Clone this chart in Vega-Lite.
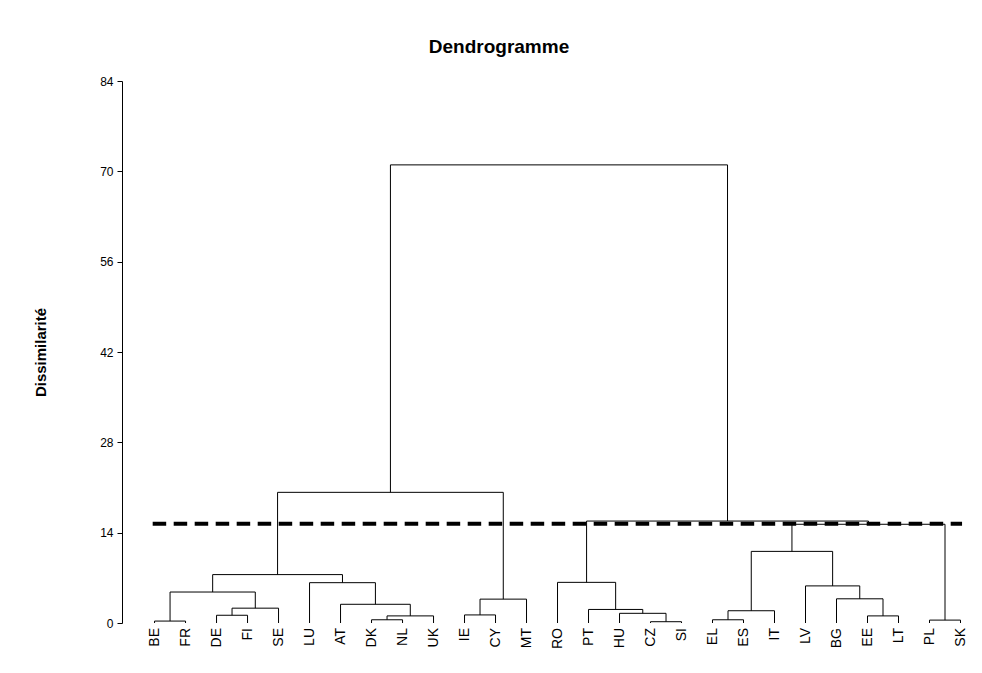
{
  "$schema": "https://vega.github.io/schema/vega-lite/v6.json",
  "width": 854,
  "height": 542,
  "autosize": {"type": "none"},
  "padding": {"left": 122, "top": 81, "right": 6, "bottom": 50},
  "background": "white",
  "config": {"view": {"stroke": null}, "font": "Liberation Sans"},
  "title": {
    "text": "Dendrogramme",
    "font": "Liberation Sans",
    "fontSize": 19,
    "fontWeight": "bold",
    "color": "black",
    "anchor": "middle",
    "dx": -50,
    "offset": 18
  },
  "datasets": {
    "leaves": [
      {"name": "BE", "pos": 1}, {"name": "FR", "pos": 2}, {"name": "DE", "pos": 3},
      {"name": "FI", "pos": 4}, {"name": "SE", "pos": 5}, {"name": "LU", "pos": 6},
      {"name": "AT", "pos": 7}, {"name": "DK", "pos": 8}, {"name": "NL", "pos": 9},
      {"name": "UK", "pos": 10}, {"name": "IE", "pos": 11}, {"name": "CY", "pos": 12},
      {"name": "MT", "pos": 13}, {"name": "RO", "pos": 14}, {"name": "PT", "pos": 15},
      {"name": "HU", "pos": 16}, {"name": "CZ", "pos": 17}, {"name": "SI", "pos": 18},
      {"name": "EL", "pos": 19}, {"name": "ES", "pos": 20}, {"name": "IT", "pos": 21},
      {"name": "LV", "pos": 22}, {"name": "BG", "pos": 23}, {"name": "EE", "pos": 24},
      {"name": "LT", "pos": 25}, {"name": "PL", "pos": 26}, {"name": "SK", "pos": 27}
    ],
    "merges": [
      {"lx": 1, "lh": 0, "rx": 2, "rh": 0, "h": 0.3},
      {"lx": 3, "lh": 0, "rx": 4, "rh": 0, "h": 1.2},
      {"lx": 3.5, "lh": 1.2, "rx": 5, "rh": 0, "h": 2.3},
      {"lx": 1.5, "lh": 0.3, "rx": 4.25, "rh": 2.3, "h": 4.8},
      {"lx": 8, "lh": 0, "rx": 9, "rh": 0, "h": 0.5},
      {"lx": 8.5, "lh": 0.5, "rx": 10, "rh": 0, "h": 1.1},
      {"lx": 7, "lh": 0, "rx": 9.25, "rh": 1.1, "h": 2.9},
      {"lx": 6, "lh": 0, "rx": 8.125, "rh": 2.9, "h": 6.25},
      {"lx": 2.875, "lh": 4.8, "rx": 7.0625, "rh": 6.25, "h": 7.5},
      {"lx": 11, "lh": 0, "rx": 12, "rh": 0, "h": 1.25},
      {"lx": 11.5, "lh": 1.25, "rx": 13, "rh": 0, "h": 3.7},
      {"lx": 4.96875, "lh": 7.5, "rx": 12.25, "rh": 3.7, "h": 20.25},
      {"lx": 17, "lh": 0, "rx": 18, "rh": 0, "h": 0.2},
      {"lx": 16, "lh": 0, "rx": 17.5, "rh": 0.2, "h": 1.5},
      {"lx": 15, "lh": 0, "rx": 16.75, "rh": 1.5, "h": 2.1},
      {"lx": 14, "lh": 0, "rx": 15.875, "rh": 2.1, "h": 6.3},
      {"lx": 19, "lh": 0, "rx": 20, "rh": 0, "h": 0.5},
      {"lx": 19.5, "lh": 0.5, "rx": 21, "rh": 0, "h": 1.9},
      {"lx": 24, "lh": 0, "rx": 25, "rh": 0, "h": 1.1},
      {"lx": 23, "lh": 0, "rx": 24.5, "rh": 1.1, "h": 3.75},
      {"lx": 22, "lh": 0, "rx": 23.75, "rh": 3.75, "h": 5.75},
      {"lx": 20.25, "lh": 1.9, "rx": 22.875, "rh": 5.75, "h": 11.1},
      {"lx": 26, "lh": 0, "rx": 27, "rh": 0, "h": 0.45},
      {"lx": 21.5625, "lh": 11.1, "rx": 26.5, "rh": 0.45, "h": 15.3},
      {"lx": 14.9375, "lh": 6.3, "rx": 24.03125, "rh": 15.3, "h": 15.8},
      {"lx": 8.609375, "lh": 20.25, "rx": 19.484375, "rh": 15.8, "h": 71}
    ],
    "cut": [{"level": 15.4, "from": 0.94, "to": 27.05}]
  },
  "layer": [
    {
      "data": {"name": "merges"},
      "mark": {"type": "rule", "color": "black", "strokeWidth": 1},
      "encoding": {
        "x": {"field": "lx", "type": "quantitative", "scale": {"domain": [-0.05, 27.5], "nice": false, "zero": false}, "axis": null},
        "x2": {"field": "rx"},
        "y": {
          "field": "h", "type": "quantitative",
          "scale": {"domain": [0, 84], "nice": false},
          "axis": {
            "title": "Dissimilarité",
            "values": [0, 14, 28, 42, 56, 70, 84],
            "grid": false,
            "domainColor": "black",
            "domainWidth": 1,
            "tickColor": "black",
            "tickSize": 5,
            "labelPadding": 4,
            "labelFont": "Liberation Sans",
            "labelFontSize": 12,
            "labelColor": "black",
            "titleFont": "Liberation Sans",
            "titleFontSize": 15,
            "titleFontWeight": "bold",
            "titleColor": "black",
            "titleAngle": -90,
            "titleBaseline": "middle",
            "titleAlign": "center",
            "titleX": -82,
            "titleY": 271
          }
        }
      }
    },
    {
      "data": {"name": "merges"},
      "mark": {"type": "rule", "color": "black", "strokeWidth": 1},
      "encoding": {
        "x": {"field": "lx", "type": "quantitative"},
        "y": {"field": "lh", "type": "quantitative"},
        "y2": {"field": "h"}
      }
    },
    {
      "data": {"name": "merges"},
      "mark": {"type": "rule", "color": "black", "strokeWidth": 1},
      "encoding": {
        "x": {"field": "rx", "type": "quantitative"},
        "y": {"field": "rh", "type": "quantitative"},
        "y2": {"field": "h"}
      }
    },
    {
      "data": {"name": "cut"},
      "mark": {"type": "rule", "color": "black", "strokeWidth": 4, "strokeDash": [13.5, 7.5]},
      "encoding": {
        "x": {"field": "from", "type": "quantitative"},
        "x2": {"field": "to"},
        "y": {"field": "level", "type": "quantitative"}
      }
    },
    {
      "data": {"name": "leaves"},
      "mark": {"type": "text", "angle": 270, "align": "right", "baseline": "middle", "font": "Liberation Sans", "fontSize": 14, "color": "black", "yOffset": 5},
      "encoding": {
        "x": {"field": "pos", "type": "quantitative"},
        "y": {"datum": 0, "type": "quantitative"},
        "text": {"field": "name"}
      }
    }
  ]
}
